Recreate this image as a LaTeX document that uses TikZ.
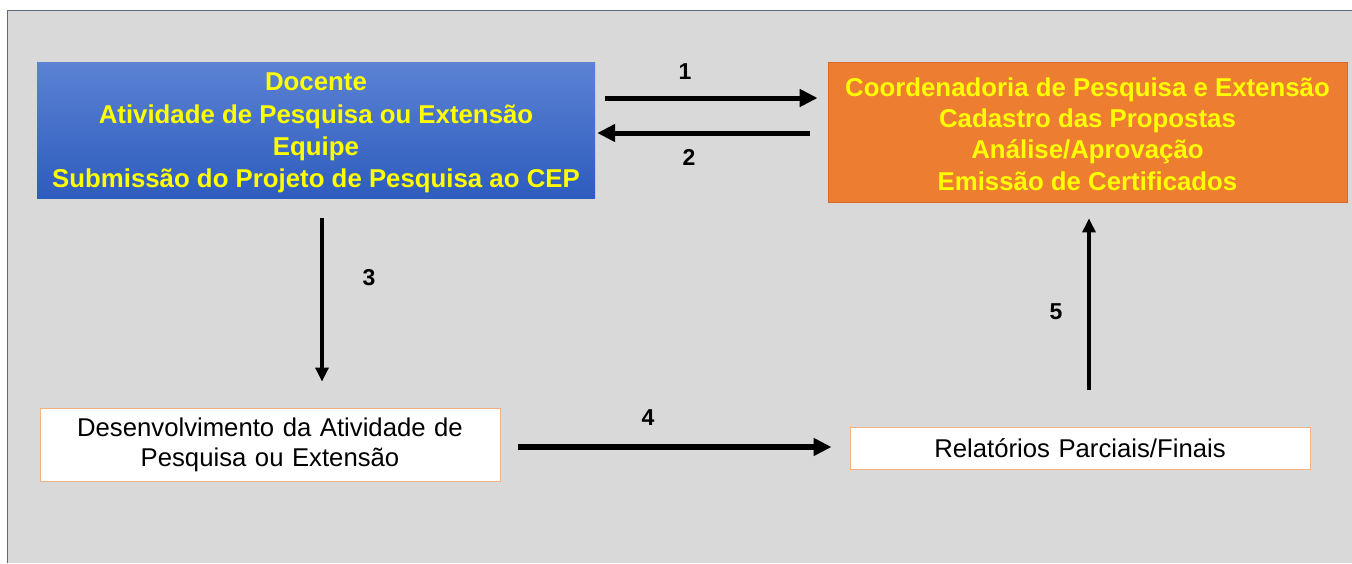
\documentclass[tikz,border=0pt]{standalone}
\usepackage{fontspec}
\setmainfont{Liberation Sans}
\usetikzlibrary{arrows.meta}
\definecolor{bggray}{HTML}{D9D9D9}
\definecolor{frameline}{HTML}{5A6B7E}
\definecolor{bluetop}{HTML}{5B82D3}
\definecolor{bluebot}{HTML}{2E5CBE}
\definecolor{orangefill}{HTML}{ED7D31}
\definecolor{orangeedge}{HTML}{D9692A}
\definecolor{paleorange}{HTML}{F4B183}
\definecolor{txtyellow}{HTML}{FFFF00}
\tikzset{
  bluebox/.style={rectangle, top color=bluetop, bottom color=bluebot, draw=none,
    minimum width=558pt, minimum height=136pt, align=center,
    text=txtyellow, font=\fontsize{25.8}{32.3}\selectfont\bfseries, inner sep=0pt},
  orangebox/.style={rectangle, fill=orangefill, draw=orangeedge, line width=0.8pt,
    minimum width=519pt, minimum height=140pt, align=center,
    text=txtyellow, font=\fontsize{25.8}{31.3}\selectfont\bfseries, inner sep=0pt},
  whitebox/.style={rectangle, fill=white, draw=paleorange, line width=0.9pt,
    minimum width=460pt, text width=450pt, align=center,
    font=\fontsize{25.7}{30}\selectfont, inner sep=0pt},
  numlabel/.style={font=\fontsize{23}{23}\selectfont\bfseries, inner sep=0pt},
  thickarr/.style={line width=5pt, -{Triangle[length=18pt,width=17pt]}},
  thinarr/.style={line width=3.2pt, -{Triangle[length=14pt,width=13pt]}}
}
\begin{document}
\begin{tikzpicture}[x=1pt,y=-1pt]
\useasboundingbox (0,0) rectangle (1352,563);
\fill[white] (0,0) rectangle (1352,563);
\fill[bggray] (7,10) rectangle (1352,563);
\draw[frameline, line width=1pt] (7.5,563) -- (7.5,10.5) -- (1352,10.5);

\node[bluebox] (docente) at (316,130) {\parbox{550pt}{\centering\vspace*{6pt}Docente\\Atividade de Pesquisa ou Extensão\\Equipe\\Submissão do Projeto de Pesquisa ao CEP}};
\node[orangebox] (coord) at (1087.5,132) {\parbox{510pt}{\centering\vspace*{4pt}Coordenadoria de Pesquisa e Extensão\\Cadastro das Propostas\\Análise/Aprovação\\Emissão de Certificados}};
\node[whitebox, minimum height=73pt] (desenv) at (270,444.5) {Desenvolvimento da Atividade de\\Pesquisa ou Extensão};
\node[whitebox, minimum height=42pt] (relat) at (1080,448) {Relatórios Parciais/Finais};

\draw[thickarr] ([xshift=10pt,yshift=32pt]docente.east) -- ([xshift=-10pt,yshift=34pt]coord.west);
\draw[thickarr] ([xshift=-18pt,yshift=-1pt]coord.west) -- ([xshift=2pt,yshift=-3pt]docente.east);
\draw[thinarr] ([xshift=6pt,yshift=-20pt]docente.south) -- ([xshift=52pt,yshift=26pt]desenv.north);
\draw[thickarr, line width=6pt] ([xshift=18pt,yshift=-2.5pt]desenv.east) -- ([xshift=-18pt,yshift=1pt]relat.west);
\draw[thinarr] ([xshift=9pt,yshift=37pt]relat.north) -- ([xshift=1.5pt,yshift=-16pt]coord.south);

\node[numlabel] (n1) at (685,72) {1};
\node[numlabel] (n2) at (689,157) {2};
\node[numlabel] (n3) at (369,278) {3};
\node[numlabel] (n4) at (648,418) {4};
\node[numlabel] (n5) at (1056,312) {5};
\end{tikzpicture}
\end{document}
